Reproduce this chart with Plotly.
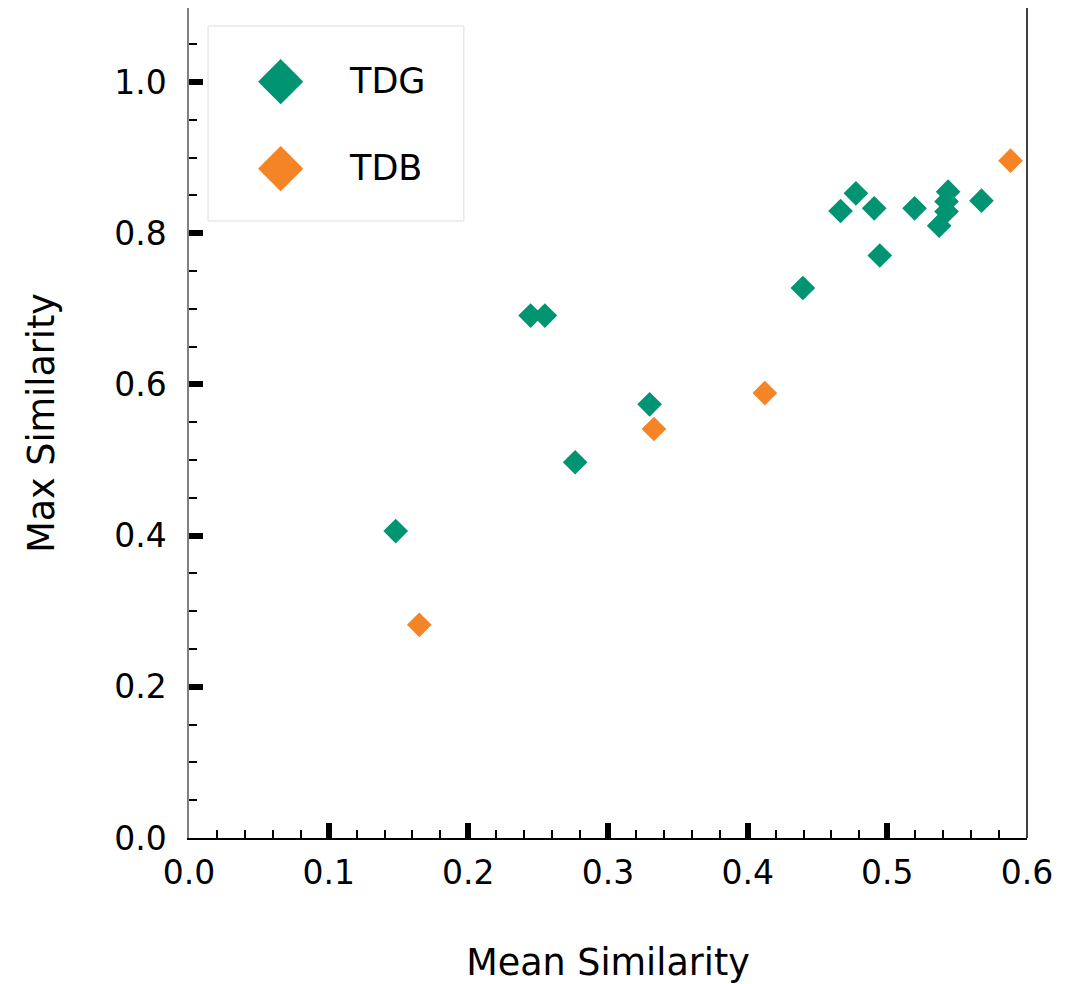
import plotly.graph_objects as go

tdg_x = [0.148, 0.2446, 0.2548, 0.2765, 0.3298, 0.4395, 0.4665, 0.4775, 0.4906, 0.4946,
         0.5195, 0.5371, 0.5424, 0.5424, 0.5435, 0.5674]
tdg_y = [0.406, 0.691, 0.691, 0.497, 0.5737, 0.7275, 0.8294, 0.8528, 0.8329, 0.7705,
         0.8329, 0.8099, 0.8287, 0.842, 0.855, 0.843]
tdb_x = [0.1649, 0.3329, 0.4123, 0.5882]
tdb_y = [0.282, 0.541, 0.5886, 0.896]

GREEN = "#009473"
ORANGE = "#F58426"
FONT = "DejaVu Sans"

fig = go.Figure()
fig.add_trace(go.Scatter(x=tdg_x, y=tdg_y, mode="markers", name="TDG",
                         marker=dict(symbol="diamond", size=19, color=GREEN, line=dict(width=0)),
                         showlegend=False))
fig.add_trace(go.Scatter(x=tdb_x, y=tdb_y, mode="markers", name="TDB",
                         marker=dict(symbol="diamond", size=19, color=ORANGE, line=dict(width=0)),
                         showlegend=False))

# legend box (manual, to match the large legend markers)
fig.add_shape(type="rect", xref="paper", yref="paper", x0=0.0227, x1=0.328, y0=0.7434, y1=0.9783,
              line=dict(color="#DDDDDD", width=1), fillcolor="rgba(255,255,255,0.8)", layer="above")
for name, col, yp in [("TDG", GREEN, 0.912), ("TDB", ORANGE, 0.807)]:
    fig.add_annotation(xref="paper", yref="paper", x=0.1098, y=yp, text="◆", showarrow=False, yshift=5,
                       font=dict(family=FONT, size=59, color=col), xanchor="center", yanchor="middle")
    fig.add_annotation(xref="paper", yref="paper", x=0.1885, y=yp, text=name, showarrow=False,
                       font=dict(family=FONT, size=35, color="black"), xanchor="left", yanchor="middle")

# right spine
fig.add_shape(type="line", xref="paper", yref="paper", x0=1, x1=1, y0=0, y1=1,
              line=dict(color="black", width=1.5))

fig.update_layout(
    width=1081, height=984,
    margin=dict(l=181, r=62, t=0, b=154),
    plot_bgcolor="white", paper_bgcolor="white",
    font=dict(family=FONT, size=33, color="black"),
    xaxis=dict(range=[0, 0.6], dtick=0.1, tick0=0, tickformat=".1f",
               showgrid=False, zeroline=False,
               showline=True, linecolor="black", linewidth=1.5,
               ticks="inside", ticklen=15, tickwidth=6, tickcolor="black",
               ticklabelstandoff=5,
               minor=dict(dtick=0.02, ticks="inside", ticklen=8, tickwidth=1.5, tickcolor="black"),
               tickfont=dict(family=FONT, size=33),
               title=dict(text="Mean Similarity", font=dict(family=FONT, size=36.5), standoff=58)),
    yaxis=dict(range=[0, 1.0979], dtick=0.2, tick0=0, tickformat=".1f",
               showgrid=False, zeroline=False,
               showline=True, linecolor="#808080", linewidth=1.5,
               ticks="inside", ticklen=14, tickwidth=6, tickcolor="black",
               ticklabelstandoff=14,
               minor=dict(dtick=0.05, ticks="inside", ticklen=8, tickwidth=1.5, tickcolor="black"),
               tickfont=dict(family=FONT, size=33),
               title=dict(text="Max Similarity", font=dict(family=FONT, size=36.5), standoff=48)),
)

fig.write_html("out.html")
